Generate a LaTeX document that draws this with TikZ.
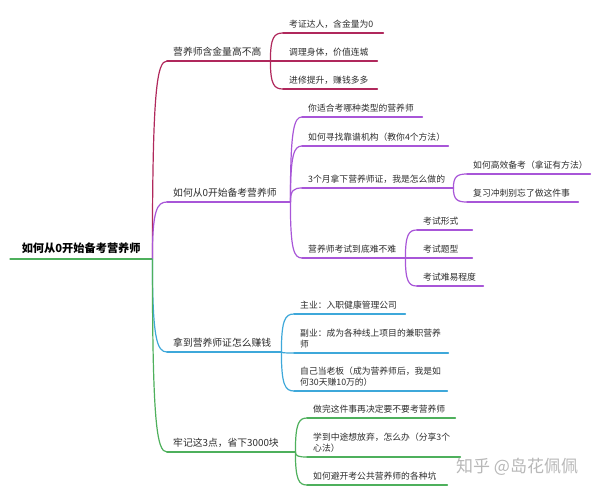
\documentclass[tikz,border=0pt]{standalone}
\usepackage{fontspec}
\setmainfont{Noto Sans CJK SC}
\usetikzlibrary{calc}
\definecolor{cA}{RGB}{176,40,92}
\definecolor{cB}{RGB}{168,86,216}
\definecolor{cC}{RGB}{62,168,218}
\definecolor{cD}{RGB}{78,176,92}
\definecolor{txt}{RGB}{45,45,45}
\tikzset{
  topic/.style={anchor=south west, inner xsep=6pt, inner ysep=4.5pt, align=left, text=txt, font=\fontsize{8.8}{10.8}\selectfont},
  btopic/.style={topic, font=\fontsize{9.8}{12}\selectfont},
  mm/.style={to path={.. controls ($(\tikztostart)!0.85!(\tikztostart|-\tikztotarget)$) and ($(\tikztotarget)!0.7!(\tikztostart|-\tikztotarget)$) .. (\tikztotarget)}},
  link/.style={line width=1.2pt, line cap=round},
}
\begin{document}
\begin{tikzpicture}[x=1pt,y=-1pt]
\useasboundingbox[fill=white] (0,0) rectangle (600,496);
% root
\node[anchor=south west, minimum width=142pt, inner xsep=0pt, inner ysep=5pt, text=black, font=\bfseries\fontsize{11.2}{13}\selectfont] (r) at (10,259) {如何从0开始备考营养师};
\draw[link,cD] (r.south west) -- (r.south east);
% main branches
\node[btopic, text width=91pt] (b1) at (167,61) {营养师含金量高不高};
\node[btopic, text width=111pt] (b2) at (167,202) {如何从0开始备考营养师};
\node[btopic, text width=102pt] (b3) at (167,352) {拿到营养师证怎么赚钱};
\node[btopic, text width=116pt] (b4) at (167,452) {牢记这3点，省下3000块};
\foreach \n/\c in {b1/cA,b2/cB,b3/cC,b4/cD}{
  \draw[link,\c] (r.south east) to[mm] (\n.south west);
  \draw[link,\c] (\n.south west) -- (\n.south east);
}
% branch 1 children
\node[topic, text width=88pt] (c11) at (283,33) {考证达人，含金量为0};
\node[topic, text width=82pt] (c12) at (283,61) {调理身体，价值连城};
\node[topic, text width=82pt] (c13) at (283,89) {进修提升，赚钱多多};
\foreach \n in {c11,c12,c13}{
  \draw[link,cA] (b1.south east) to[mm] (\n.south west);
  \draw[link,cA] (\n.south west) -- (\n.south east);
}
% branch 2 children
\node[topic, text width=108pt] (c21) at (302,117) {你适合考哪种类型的营养师};
\node[topic, text width=134pt] (c22) at (302,146) {如何寻找靠谱机构（教你4个方法）};
\node[topic, text width=139pt] (c23) at (302,188) {3个月拿下营养师证，我是怎么做的};
\node[topic, text width=91pt] (c24) at (302,258) {营养师考试到底难不难};
\foreach \n in {c21,c22,c23,c24}{
  \draw[link,cB] (b2.south east) to[mm] (\n.south west);
  \draw[link,cB] (\n.south west) -- (\n.south east);
}
\node[topic, text width=111pt] (g231) at (467,174) {如何高效备考（拿证有方法）};
\node[topic, text width=99pt] (g232) at (467,202) {复习冲刺别忘了做这件事};
\foreach \n in {g231,g232}{
  \draw[link,cB] (c23.south east) to[mm] (\n.south west);
  \draw[link,cB] (\n.south west) -- (\n.south east);
}
\node[topic, text width=43pt] (g241) at (417,230) {考试形式};
\node[topic, text width=43pt] (g242) at (417,258) {考试题型};
\node[topic, text width=54pt] (g243) at (417,286) {考试难易程度};
\foreach \n in {g241,g242,g243}{
  \draw[link,cB] (c24.south east) to[mm] (\n.south west);
  \draw[link,cB] (\n.south west) -- (\n.south east);
}
% branch 3 children
\node[topic, text width=99pt] (c31) at (294,314) {主业：入职健康管理公司};
\node[topic, text width=142pt] (c32) at (294,353) {副业：成为各种线上项目的兼职营养\\师};
\node[topic, text width=141pt] (c33) at (294,391) {自己当老板（成为营养师后，我是如\\何30天赚10万的）};
\foreach \n in {c31,c32,c33}{
  \draw[link,cC] (b3.south east) to[mm] (\n.south west);
  \draw[link,cC] (\n.south west) -- (\n.south east);
}
% branch 4 children
\node[topic, text width=136pt] (c41) at (307,418) {做完这件事再决定要不要考营养师};
\node[topic, text width=141pt] (c42) at (307,457) {学到中途想放弃，怎么办（分享3个\\心法）};
\node[topic, text width=128pt] (c43) at (307,485) {如何避开考公共营养师的各种坑};
\foreach \n in {c41,c42,c43}{
  \draw[link,cD] (b4.south east) to[mm] (\n.south west);
  \draw[link,cD] (\n.south west) -- (\n.south east);
}
% watermark
\node[anchor=west, inner sep=0pt, text=black!28, font=\fontsize{17}{19}\selectfont] (wm) at (456,467) {知乎 @岛花佩佩};
\end{tikzpicture}
\end{document}
